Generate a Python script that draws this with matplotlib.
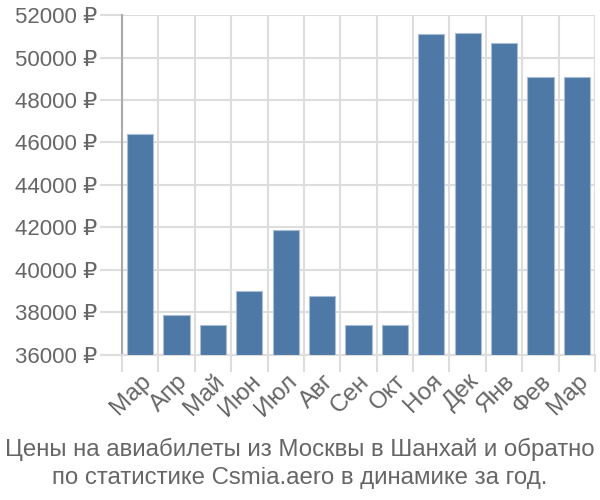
import matplotlib
matplotlib.use('Agg')
import matplotlib.pyplot as plt
import numpy as np

# data
months = ['Мар', 'Апр', 'Май', 'Июн', 'Июл', 'Авг', 'Сен', 'Окт', 'Ноя', 'Дек', 'Янв', 'Фев', 'Мар']
prices = [46400, 37900, 37400, 39000, 41900, 38800, 37400, 37400, 51100, 51150, 50700, 49100, 49100]
yticks = list(range(36000, 52001, 2000))
title = 'Цены на авиабилеты из Москвы в Шанхай и обратно\nпо статистике Csmia.aero в динамике за год.'

plt.rcParams['font.family'] = ['Liberation Sans', 'DejaVu Sans']

fig = plt.figure(figsize=(6, 5), dpi=100)
ax = fig.add_axes([122/600, 1 - 355/500, (595 - 122)/600, 340/500])

x = np.arange(len(months))
ax.bar(x, [p - 36000 for p in prices], bottom=36000, width=0.72,
       color='#4e78a6', edgecolor='#a9bdd6', linewidth=0.8, zorder=3)

ax.set_xlim(-0.5, len(months) - 0.5)
ax.set_ylim(36000, 52000)

ax.set_yticks(yticks)
ax.set_yticklabels([f'{v} ₽' for v in yticks])
ax.set_xticks(x)
ax.set_xticklabels(months, rotation=45, ha='right', rotation_mode='anchor')
ax.set_xticks(np.arange(-0.5, len(months)), minor=True)

ax.tick_params(axis='y', length=16, color='#dddddd', width=1.5, labelsize=16, labelcolor='#666666', pad=2)
ax.tick_params(axis='x', which='major', length=0, labelsize=17.5, labelcolor='#666666', pad=11)
ax.tick_params(axis='x', which='minor', length=12, color='#dddddd', width=1.5)

ax.grid(axis='y', color='#dddddd', linewidth=1.5, zorder=0)
ax.grid(axis='x', which='minor', color='#dddddd', linewidth=1.5, zorder=0)

for s in ['top', 'right']:
    ax.spines[s].set_visible(False)
ax.spines['bottom'].set_color('#dddddd')
ax.spines['bottom'].set_linewidth(1.5)
ax.spines['left'].set_color('#aaaaaa')
ax.spines['left'].set_linewidth(1.5)

fig.text(0.5, 1 - 463/500, title, ha='center', va='center', fontsize=17.3, color='#666666', linespacing=1.35)

fig.savefig('out.png', dpi=100)
